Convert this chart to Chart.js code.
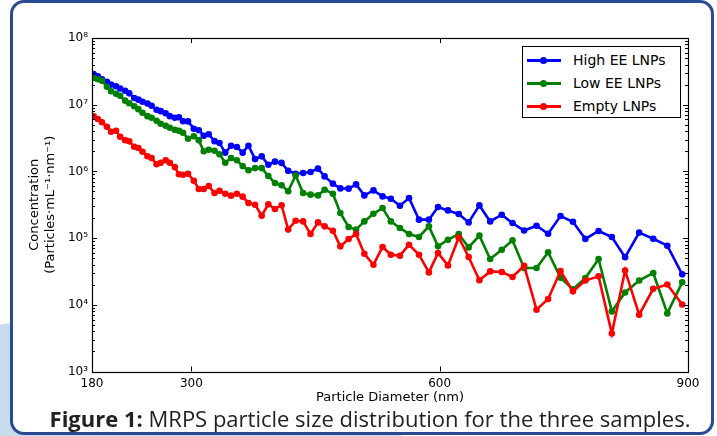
<!DOCTYPE html>
<html><head><meta charset="utf-8">
<script src="https://cdn.jsdelivr.net/npm/chart.js@4/dist/chart.umd.min.js"></script>
<style>
html,body{margin:0;padding:0;width:717px;height:436px;overflow:hidden;background:#fff;position:relative;}
#blob{position:absolute;left:-420px;top:318px;width:1000px;height:1000px;border-radius:50%;background:#c8dcee;}
#card{position:absolute;left:10px;top:0px;width:704px;height:435px;box-sizing:border-box;border:3px solid #2c4a92;border-radius:14px;background:#fff;}
#chart{position:absolute;left:0;top:0;}
#caption{position:absolute;left:0;width:740px;top:407px;line-height:22px;text-align:center;font-family:"Open Sans",sans-serif;font-size:22px;color:#222;white-space:nowrap;}
#caption b{font-weight:700;}
#legend{position:absolute;left:522px;top:46px;width:159px;height:72px;box-sizing:border-box;border:1px solid #000;background:#fff;font-family:"DejaVu Sans",sans-serif;font-size:14px;color:#000;}
.row{position:absolute;left:0;height:20px;width:100%;}
.ln{position:absolute;left:4px;width:34px;height:2.5px;top:9px;}
.dot{position:absolute;left:17px;width:7px;height:7px;border-radius:50%;top:7px;}
.tx{position:absolute;left:50px;top:1px;line-height:18px;white-space:nowrap;}
</style></head>
<body>
<div id="blob"></div>
<div id="card"></div>
<canvas id="chart" width="717" height="436"></canvas>
<div id="legend"></div>
<div id="caption"><b>Figure 1:</b> MRPS particle size distribution for the three samples.</div>
<script>
// Particle diameter (nm) of each MRPS bin
const diameters = [182,187,192,198,203,209,214,220,225,231,236,241,247,252,258,263,269,274,280,285,290,296,303,309,315,321,328,334,341,348,355,362,369,377,385,393,401,409,417,426,435,444,453,461,471,480,490,499,509,520,531,541,552,563,575,587,598,610,623,635,648,661,675,688,702,717,731,746,761,776,792,808,824,841,858,875,893];
// Concentration (particles / mL / nm)
const highEE = [2.88e7,2.67e7,2.41e7,2.21e7,2.00e7,1.89e7,1.75e7,1.62e7,1.48e7,1.26e7,1.19e7,1.11e7,1.04e7,9.66e6,8.41e6,8.00e6,7.46e6,6.73e6,6.38e6,6.50e6,5.66e6,5.62e6,4.37e6,4.15e6,3.43e6,3.61e6,2.84e6,2.67e6,1.91e6,2.43e6,2.32e6,1.91e6,2.43e6,1.53e6,1.68e6,1.26e6,1.40e6,1.34e6,1.02e6,9.24e5,9.46e5,9.79e5,1.10e6,8.41e5,6.55e5,5.56e5,5.51e5,6.38e5,4.37e5,5.19e5,4.22e5,3.90e5,3.06e5,3.99e5,1.89e5,1.89e5,2.92e5,2.60e5,2.30e5,1.72e5,3.09e5,1.78e5,2.24e5,1.68e5,1.30e5,1.53e5,1.16e5,2.14e5,1.76e5,9.72e4,1.28e5,1.04e5,5.18e4,1.21e5,9.79e4,7.69e4,2.86e4];
const lowEE = [2.51e7,2.41e7,2.29e7,1.86e7,1.59e7,1.46e7,1.36e7,1.15e7,1.05e7,9.50e6,8.57e6,7.59e6,6.73e6,6.38e6,5.75e6,5.19e6,4.84e6,4.52e6,4.22e6,4.07e6,3.80e6,3.09e6,3.37e6,2.94e6,2.00e6,2.11e6,2.04e6,1.81e6,1.35e6,1.59e6,1.47e6,1.20e6,1.04e6,1.12e6,1.12e6,8.53e5,6.70e5,6.21e5,5.05e5,8.71e5,4.74e5,4.48e5,4.37e5,5.32e5,4.63e5,2.38e5,1.47e5,1.34e5,1.78e5,2.32e5,2.82e5,1.78e5,1.42e5,1.15e5,1.04e5,1.50e5,7.52e4,9.46e4,1.15e5,7.26e4,1.09e5,4.86e4,6.70e4,9.25e4,3.56e4,3.56e4,6.15e4,2.55e4,1.71e4,2.52e4,4.86e4,7.96e3,1.53e4,2.31e4,3.00e4,7.43e3,2.17e4];
const emptyLNP = [6.68e6,6.11e6,5.47e6,4.68e6,3.94e6,4.07e6,3.31e6,2.94e6,2.82e6,2.34e6,2.24e6,1.97e6,1.69e6,1.59e6,1.28e6,1.35e6,1.47e6,1.35e6,1.16e6,9.08e5,8.93e5,9.24e5,7.26e5,5.45e5,5.45e5,6.04e5,4.74e5,5.14e5,4.63e5,4.33e5,4.63e5,4.18e5,3.36e5,3.17e5,2.17e5,3.22e5,2.73e5,3.11e5,1.34e5,1.82e5,1.78e5,1.15e5,1.72e5,1.50e5,1.29e5,7.52e4,9.70e4,1.15e5,5.83e4,3.99e4,7.36e4,5.64e4,5.45e4,7.96e4,5.64e4,3.06e4,5.98e4,3.90e4,1.02e5,5.21e4,2.34e4,3.17e4,3.10e4,2.61e4,3.85e4,8.45e3,1.22e4,3.21e4,1.59e4,2.31e4,2.67e4,3.72e3,3.27e4,7.11e3,1.74e4,2.02e4,1.01e4];
const seriesLabels = ['High EE LNPs','Low EE LNPs','Empty LNPs'];
const seriesColors = ['#0000ff','#008000','#ff0000'];
const xTickValues = [180,300,600,900];
const yTickExponents = [3,4,5,6,7,8];

const sup = {'0':'⁰','1':'¹','2':'²','3':'³','4':'⁴','5':'⁵','6':'⁶','7':'⁷','8':'⁸','9':'⁹','-':'⁻'};
const toSup = s => String(s).split('').map(c => sup[c] || c).join('');

const seriesValues = [highEE, lowEE, emptyLNP];
const datasets = seriesValues.map((vals, i) => ({
  label: seriesLabels[i],
  data: vals.map((v, j) => ({x: diameters[j], y: v})),
  borderColor: seriesColors[i],
  backgroundColor: seriesColors[i],
  pointBackgroundColor: seriesColors[i],
  pointBorderWidth: 0,
  pointRadius: 3.3,
  borderWidth: 2.6,
  tension: 0,
  order: 2 - i
}));

const frame = {
  id: 'frame',
  afterDatasetsDraw(chart) {
    const {ctx, chartArea: a, scales: {x, y}} = chart;
    ctx.save();
    ctx.strokeStyle = '#000';
    ctx.lineWidth = 1;
    ctx.beginPath();
    xTickValues.forEach(v => {
      const px = Math.round(x.getPixelForValue(v)) + 0.5;
      ctx.moveTo(px, a.bottom); ctx.lineTo(px, a.bottom - 5);
      ctx.moveTo(px, a.top); ctx.lineTo(px, a.top + 5);
    });
    yTickExponents.forEach((e, k) => {
      for (let m = 1; m <= 9; m++) {
        if (k === yTickExponents.length - 1 && m > 1) break;
        const py = Math.round(y.getPixelForValue(m * Math.pow(10, e))) + 0.5;
        const len = m === 1 ? 5 : 3;
        ctx.moveTo(a.left, py); ctx.lineTo(a.left + len, py);
        ctx.moveTo(a.right, py); ctx.lineTo(a.right - len, py);
      }
    });
    ctx.stroke();
    ctx.lineWidth = 1.2;
    ctx.strokeRect(Math.round(a.left) + 0.5, Math.round(a.top) + 0.5, Math.round(a.right - a.left), Math.round(a.bottom - a.top));
    ctx.restore();
  }
};

const tickFont = {family: 'DejaVu Sans', size: 12};
new Chart(document.getElementById('chart'), {
  type: 'line',
  data: {datasets},
  options: {
    responsive: false,
    animation: false,
    layout: {padding: {left: 0, right: 29, top: 38, bottom: 24.5}},
    plugins: {legend: {display: false}, tooltip: {enabled: false}},
    scales: {
      x: {
        type: 'linear', min: 180, max: 900,
        grid: {display: false, drawTicks: false},
        border: {display: false},
        afterBuildTicks: s => { s.ticks = xTickValues.map(v => ({value: v})); },
        afterFit: s => { s.height = 40; },
        ticks: {color: '#000', font: tickFont, padding: 5, maxRotation: 0, autoSkip: false},
        title: {display: true, text: 'Particle Diameter (nm)', color: '#000', font: {family: 'DejaVu Sans', size: 13}, padding: {top: 0, bottom: 6.5}}
      },
      y: {
        type: 'logarithmic', min: 1e3, max: 1e8,
        grid: {display: false, drawTicks: false},
        border: {display: false},
        afterBuildTicks: s => { s.ticks = yTickExponents.map(e => ({value: Math.pow(10, e)})); },
        afterFit: s => { s.width = 92; },
        ticks: {color: '#000', font: tickFont, padding: 4, autoSkip: false,
          callback: v => '10' + toSup(Math.round(Math.log10(v)))},
        title: {display: true, text: ['Concentration', '(Particles·mL' + toSup(-1) + '·nm' + toSup(-1) + ')'], color: '#000', font: {family: 'DejaVu Sans', size: 13}, padding: {top: 27, bottom: 0}}
      }
    }
  },
  plugins: [frame]
});

// HTML legend built from the series
const lg = document.getElementById('legend');
seriesLabels.forEach((lab, i) => {
  const r = document.createElement('div');
  r.className = 'row';
  r.style.top = (3 + i * 23) + 'px';
  r.innerHTML = '<span class="ln" style="background:' + seriesColors[i] + '"></span><span class="dot" style="background:' + seriesColors[i] + '"></span><span class="tx">' + lab + '</span>';
  lg.appendChild(r);
});
</script>
</body></html>
